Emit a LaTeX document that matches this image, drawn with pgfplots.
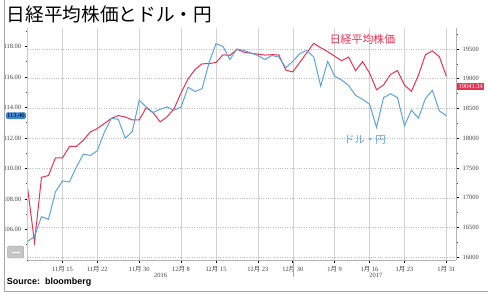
\documentclass[border=0pt]{standalone}
\usepackage{fontspec}
\setmainfont{Liberation Serif}
\newfontfamily\cjk{Noto Sans CJK JP}
\newfontfamily\arial{Liberation Sans}
\usepackage{pgfplots}
\pgfplotsset{compat=1.18}
\usepackage{pgfplotstable}
\definecolor{nred}{RGB}{232,50,82}
\definecolor{nblue}{RGB}{92,162,226}
\definecolor{boxblue}{RGB}{60,135,210}

% Nikkei 225 (right axis), x = weekday index (0 = Nov 15, 2016)
\pgfplotstableread{
i v
-5 17171
-4 16251
-3 17344
-2 17374
-1 17672
0 17668
1 17862
2 17862
3 17968
4 18106
5 18162
7 18333
8 18381
9 18357
10 18307
11 18308
12 18513
13 18426
14 18274
15 18361
16 18496
17 18765
18 18996
19 19155
20 19250
21 19253
22 19273
23 19401
24 19392
25 19494
26 19445
27 19428
29 19397
30 19403
31 19401
32 19145
33 19114
36 19594
37 19520
38 19454
40 19301
41 19364
42 19134
43 19287
44 19095
45 18814
46 18894
47 19072
48 19137
49 18891
50 18788
51 19058
52 19402
53 19467
54 19369
55 19041
}\nikkei

% USD/JPY (left axis)
\pgfplotstableread{
i v
-5 105.22
-4 105.54
-3 106.84
-2 106.67
-1 108.47
0 109.18
1 109.12
2 110.09
3 110.94
4 110.85
5 111.17
6 112.37
7 113.28
8 113.23
9 111.98
10 112.41
11 114.47
12 114.03
13 113.67
14 113.88
15 114.03
16 113.82
17 114.03
18 115.33
19 115.04
20 115.23
21 116.92
22 118.18
23 118.00
24 117.14
25 117.83
26 117.74
27 117.57
28 117.40
29 117.14
30 117.40
31 117.31
32 116.60
33 117.02
34 117.53
35 117.74
36 117.31
37 115.40
38 117.02
39 116.05
40 115.79
41 115.44
42 114.79
43 114.53
44 114.21
45 112.69
46 114.64
47 114.90
48 114.64
49 112.80
50 113.82
51 113.30
52 114.58
53 115.12
54 113.77
55 113.46
}\usdjpy

\begin{document}
\begin{tikzpicture}
\pgfplotsset{
  common/.style={
    width=432pt, height=234pt, scale only axis,
    xmin=-5, xmax=56.42,
    tick align=outside,
    major tick length=3pt, minor tick length=1.5pt,
    tick style={black, line width=0.7pt},
    minor tick style={black!70, line width=0.6pt},
    tick label style={font=\fontsize{6.5}{7}\selectfont, text=black!75},
    /pgf/number format/assume math mode=true,
    clip=false,
  }
}
% right axis: Nikkei
\begin{axis}[common,
  ymin=15955, ymax=19855,
  axis y line*=right, axis x line*=bottom,
  axis line style={gray!60, line width=0.6pt},
  ytick={16000,16500,...,19500},
  minor ytick={16250,16750,...,19750},
  scaled y ticks=false,
  y tick label style={/pgf/number format/1000 sep={}},
  xtick={0,5,11,17,22,28,33,39,44,49,55},
  xticklabels={11{\cjk 月} 15, 11{\cjk 月} 22, 11{\cjk 月} 30, 12{\cjk 月} 8, 12{\cjk 月} 15, 12{\cjk 月} 23, 12{\cjk 月} 30, 1{\cjk 月} 9, 1{\cjk 月} 16, 1{\cjk 月} 23, 1{\cjk 月} 31},
  minor xtick={-5,-4,...,56},
  xmajorgrids, ymajorgrids,
  x grid style={gray!35, line width=0.5pt},
  y grid style={gray!50, dotted, line width=0.5pt},
]
\addplot[nred, line width=1pt] table[x=i, y=v] {\nikkei};
\node[text=nred, font=\cjk\fontsize{11}{12}\selectfont] at (axis cs:43.0,19655) {日経平均株価};
\node[fill=nred, text=white, anchor=west, inner sep=1.2pt, font=\fontsize{6.5}{7}\selectfont, xshift=1pt, yshift=-10pt] at (axis cs:56.42,19041.34) {19041.34};
\node[font=\fontsize{6.5}{7}\selectfont, text=black!75, yshift=-15pt] at (axis cs:14.07,15955) {2016};
\node[font=\fontsize{6.5}{7}\selectfont, text=black!75, yshift=-15pt] at (axis cs:44.9,15955) {2017};
\draw[gray!70, line width=0.5pt] (axis cs:33.1,15955) -- ([yshift=-17pt]axis cs:33.1,15955);
\node[anchor=west, inner sep=0pt, font=\cjk\fontsize{18.8}{20}\selectfont, xshift=-21pt, yshift=13pt] at (rel axis cs:0,1) {日経平均株価とドル・円};
\node[anchor=west, inner sep=0pt, font=\arial\bfseries\fontsize{9}{10}\selectfont, xshift=-21pt, yshift=-22pt] at (rel axis cs:0,0) {Source:\ \ bloomberg};
\end{axis}
% left axis: USD/JPY
\begin{axis}[common,
  ymin=104.0, ymax=119.22,
  axis y line*=left, axis x line=none,
  axis line style={gray!40, line width=0.5pt},
  ytick={106,108,...,118},
  minor ytick={105,107,...,119},
  y tick label style={/pgf/number format/.cd, fixed, fixed zerofill, precision=2},
]
\addplot[nblue, line width=1pt] table[x=i, y=v] {\usdjpy};
\node[text=nblue, font=\cjk\fontsize{10.5}{12}\selectfont] at (axis cs:43.35,111.87) {ドル・円};
\node[fill=boxblue, rounded corners=1.5pt, text=black!80!blue, anchor=east, inner sep=1.2pt, font=\fontsize{6.5}{7}\selectfont, xshift=-1.5pt] at (axis cs:-5,113.46) {113.46};
\end{axis}
\path[use as bounding box] ([shift={(-24pt,-32pt)}]current axis.south west) rectangle ([shift={(464pt,262pt)}]current axis.south west);
\draw[gray!70, line width=0.8pt] ([shift={(-23.6pt,262pt)}]current axis.south west) -- ([shift={(-23.6pt,-31.4pt)}]current axis.south west) -- ([shift={(464pt,-31.4pt)}]current axis.south west);
\draw[gray!70, fill=gray!45, rounded corners=1pt] ([shift={(-20pt,2pt)}]current axis.south west) rectangle ([shift={(-4pt,14pt)}]current axis.south west);
\draw[white, line width=0.6pt] ([shift={(-16pt,8pt)}]current axis.south west) -- ([shift={(-8pt,8pt)}]current axis.south west);
\end{tikzpicture}
\end{document}
